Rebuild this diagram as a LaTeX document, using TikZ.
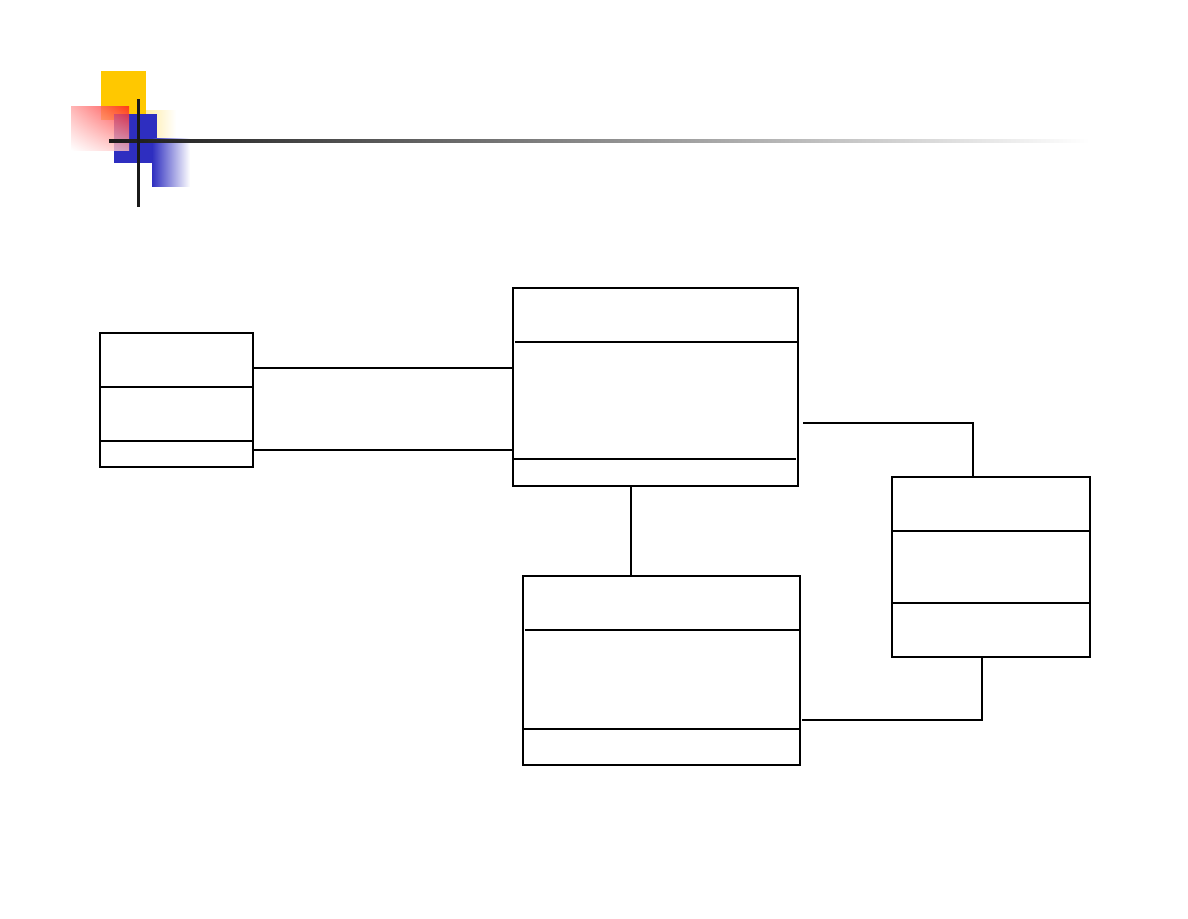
\documentclass[tikz,border=0pt]{standalone}
\usetikzlibrary{calc,shadings}
\definecolor{logoyellow}{HTML}{FFC800}
\definecolor{logoblue}{HTML}{2E2EC0}
\definecolor{logored}{HTML}{FF1A1A}
\tikzset{
  umlbox/.style={draw=black, line width=2pt, fill=white, rectangle, inner sep=0pt, outer sep=0pt, anchor=north west},
  divider/.style={draw=black, line width=1.6pt},
  link/.style={draw=black, line width=2pt},
  logoline/.style={draw=black!90, line width=3pt}
}
\begin{document}
\begin{tikzpicture}[x=1pt,y=-1pt]
\useasboundingbox[fill=white] (0,0) rectangle (1188,918);
% ---- logo ----
\fill[logoyellow] (101,71) rectangle (146,120);
\shade[left color=logoyellow!35, right color=white] (146,110) rectangle (176,138);
\fill[logoblue] (114,114) rectangle (157,163);
\shade[left color=logoblue, right color=white] (152,138) rectangle (190,186);
\shade[fill opacity=0.8, upper left=logored!40, upper right=logored, lower left=white, lower right=logored!30] (71,106) rectangle (129,150);
\shade[left color=black!90, middle color=black!55, right color=white] (109,139.5) rectangle (1090,142.5);
\draw[logoline] (138,99) -- (138,207);
% ---- class boxes ----
\node[umlbox, minimum width=153pt, minimum height=134pt] (A) at (100,333) {};
\node[umlbox, minimum width=285pt, minimum height=198pt] (B) at (513,288) {};
\node[umlbox, minimum width=277pt, minimum height=189pt] (C) at (523,576) {};
\node[umlbox, minimum width=198pt, minimum height=180pt] (D) at (892,477) {};
% dividers
\draw[divider] ($(A.north west)+(0,54)$) -- ($(A.north east)+(0,54)$);
\draw[divider] ($(A.north west)+(0,108)$) -- ($(A.north east)+(0,108)$);
\draw[divider] ($(B.north west)+(2,54)$) -- ($(B.north east)+(-1,54)$);
\draw[divider] ($(B.north west)+(0,171)$) -- ($(B.north east)+(-2,171)$);
\draw[divider] ($(C.north west)+(2,54)$) -- ($(C.north east)+(-1,54)$);
\draw[divider] ($(C.north west)+(0,153)$) -- ($(C.north east)+(0,153)$);
\draw[divider] ($(D.north west)+(0,54)$) -- ($(D.north east)+(0,54)$);
\draw[divider] ($(D.north west)+(0,126)$) -- ($(D.north east)+(0,126)$);
% ---- connectors ----
\coordinate (a1) at ($(A.north east)+(0,35)$);
\coordinate (a2) at ($(A.north east)+(0,117)$);
\draw[link] (a1) -- (B.west |- a1);
\draw[link] (a2) -- (B.west |- a2);
\draw[link] (B.south west -| 631,0) -- (C.north west -| 631,0);
\coordinate (b1) at ($(B.north east)+(5,135)$);
\draw[link] (b1) -| (D.north west -| 973,0);
\coordinate (c1) at ($(C.north east)+(2,144)$);
\draw[link] (c1) -| (D.south west -| 982,0);
\end{tikzpicture}
\end{document}
